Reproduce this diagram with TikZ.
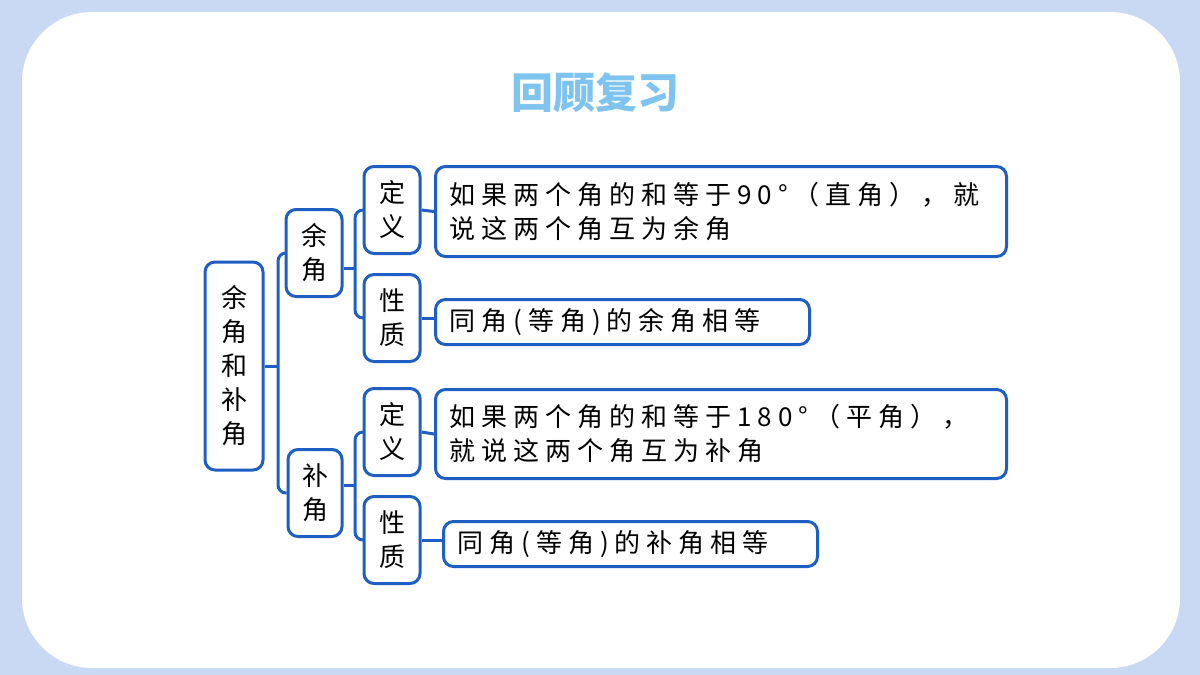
\documentclass[tikz,border=0pt]{standalone}
\usepackage{fontspec}
\newfontfamily\cjk[LetterSpace=23]{Noto Sans CJK SC}
\newfontfamily\cjktitle{Noto Sans CJK SC}
\usetikzlibrary{positioning}
\definecolor{frameblue}{HTML}{1F5FC4}
\definecolor{bgblue}{HTML}{C9D9F3}
\definecolor{titleblue}{HTML}{7FC4EE}
\tikzset{
  box/.style={draw=frameblue, line width=3pt, rounded corners=10pt, fill=white,
    inner sep=0pt, font=\cjk\fontsize{26}{34}\selectfont, align=center},
  textbox/.style={box, anchor=north west, align=left, inner xsep=14pt},
  link/.style={draw=frameblue, line width=3pt, rounded corners=8pt}
}
\begin{document}
\begin{tikzpicture}[x=1pt,y=-1pt]
  \useasboundingbox (0,0) rectangle (1200,675);
  \fill[bgblue] (0,0) rectangle (1200,675);
  \fill[white, rounded corners=70pt] (22,12) rectangle (1180,668);
  \node[font=\cjktitle\bfseries\fontsize{42}{42}\selectfont, text=titleblue,
        draw=none] (title) at (595,93) {回顾复习};
  % tree
  \node[box, minimum width=58pt, minimum height=208pt] (root) at (234,366)
    {余\\角\\和\\补\\角};
  \node[box, minimum width=56pt, minimum height=87pt] (yu) at (314,253) {余\\角};
  \node[box, minimum width=54pt, minimum height=87pt] (bu) at (315,493) {补\\角};
  \node[box, minimum width=56pt, minimum height=87pt] (dy1) at (392,210) {定\\义};
  \node[box, minimum width=56pt, minimum height=87pt] (xz1) at (392,318) {性\\质};
  \node[box, minimum width=56pt, minimum height=87pt] (dy2) at (392,432) {定\\义};
  \node[box, minimum width=56pt, minimum height=87pt] (xz2) at (392,540) {性\\质};
  \node[textbox, text width=543pt, minimum height=90pt] (t1) at (434,165)
    {如果两个角的和等于90°（直角），就\\说这两个角互为余角};
  \node[textbox, text width=346pt, minimum height=45pt] (t2) at (434,298)
    {同角(等角)的余角相等};
  \node[textbox, text width=543pt, minimum height=89pt] (t3) at (434,388)
    {如果两个角的和等于180°（平角），\\就说这两个角互为补角};
  \node[textbox, text width=346pt, minimum height=45pt] (t4) at (442,520)
    {同角(等角)的补角相等};
  \coordinate (j0) at (278,366);
  \coordinate (j1) at (355,268);
  \coordinate (j2) at (355,485);
  \draw[link] (root.east) -- (j0);
  \draw[link] (yu.west) -| (j0) |- (bu.west);
  \draw[link] (yu.east |- j1) -- (j1);
  \draw[link] (dy1.west) -| (j1) |- (xz1.west);
  \draw[link] (bu.east |- j2) -- (j2);
  \draw[link] (dy2.west) -| (j2) |- (xz2.west);
  \draw[link] (dy1.east) -- (t1.west);
  \draw[link] (xz1.east) -- (xz1.east -| t2.west);
  \draw[link] (dy2.east) -- (t3.west);
  \draw[link] (xz2.east) -- (xz2.east -| t4.west);
\end{tikzpicture}
\end{document}
